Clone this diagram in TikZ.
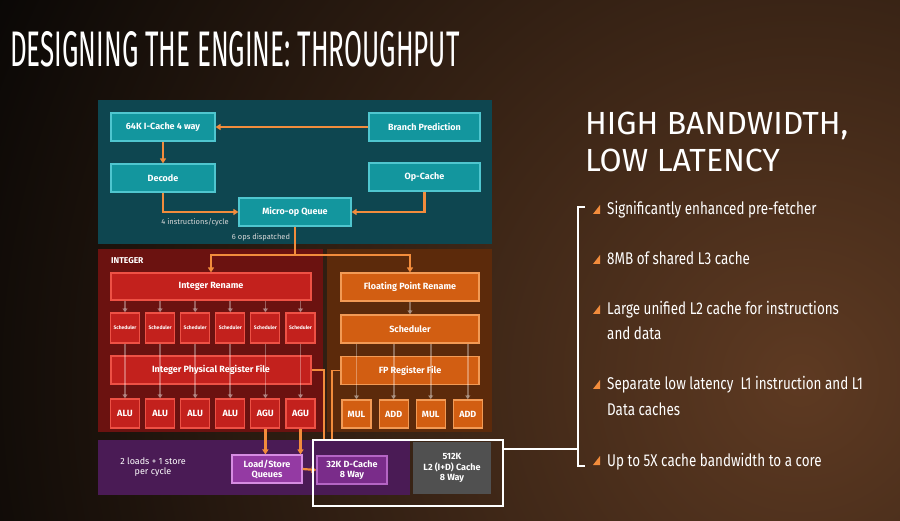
\documentclass[tikz,border=0pt]{standalone}
\usepackage{fontspec}
\setmainfont{Fira Sans}
\newfontfamily\titlefont[FakeStretch=0.52]{Fira Sans}
\newfontfamily\headfont{Fira Sans}
\newfontfamily\pointfont[FakeStretch=0.79]{Fira Sans}
\usepackage{tikz}
\usetikzlibrary{arrows.meta, positioning}
\definecolor{inkdark}{HTML}{060504}
\definecolor{emberglow}{HTML}{5E3A22}
\definecolor{fepanel}{HTML}{0E4650}
\definecolor{feteal}{HTML}{13969E}
\definecolor{feedge}{HTML}{4FC6CF}
\definecolor{intpanel}{HTML}{6B1210}
\definecolor{intred}{HTML}{C3211D}
\definecolor{intedge}{HTML}{EE5145}
\definecolor{fppanel}{HTML}{5C2A0B}
\definecolor{fporange}{HTML}{D25E12}
\definecolor{fpedge}{HTML}{F29A55}
\definecolor{lspanel}{HTML}{4A1B55}
\definecolor{lsviolet}{HTML}{943AA3}
\definecolor{lsedge}{HTML}{D68CE2}
\definecolor{dcviolet}{HTML}{7A2C8A}
\definecolor{dcedge}{HTML}{B565C5}
\definecolor{l2grey}{HTML}{505050}
\definecolor{wire}{HTML}{F28C3C}

\begin{document}
\begin{tikzpicture}[
    x=1pt, y=-1pt,
    node distance=5pt and 5pt,
    unit/.style={rectangle, line width=1.1pt, text=white, align=center, inner sep=1pt, font=\bfseries\fontsize{9}{10}\selectfont},
    febox/.style={unit, draw=feedge, fill=feteal, minimum width=104pt, minimum height=28pt},
    intwide/.style={unit, draw=intedge, fill=intred, minimum width=200pt, minimum height=27pt},
    intcell/.style={unit, draw=intedge, fill=intred, minimum width=29pt, minimum height=29pt},
    schedcell/.style={intcell, minimum height=30pt, font=\bfseries\fontsize{5}{6}\selectfont},
    fpwide/.style={unit, draw=fpedge, fill=fporange, minimum width=138pt, minimum height=28pt},
    fpcell/.style={unit, draw=fpedge, fill=fporange, minimum width=29pt, minimum height=28pt},
    lsbox/.style={unit, draw=lsedge, fill=lsviolet, minimum width=70pt, minimum height=28pt, font=\bfseries\fontsize{9}{10}\selectfont},
    note/.style={text=white!85!black, font=\fontsize{7.5}{9}\selectfont, inner sep=0pt},
    flowarrow/.style={-{Triangle[length=5pt, width=6pt]}, line width=2.2pt, color=wire},
    flowline/.style={line width=2.2pt, color=wire},
    fadearrow/.style={-{Triangle[length=4pt, width=5pt]}, line width=1.8pt, color=white, opacity=0.32},
    pointtext/.style={anchor=base west, inner sep=0pt, align=left, text=white, font=\pointfont\fontsize{17}{25}\selectfont},
    tri/.style={fill=wire},
  ]
  % background
  \useasboundingbox (0,0) rectangle (900,521);
  \fill[inkdark] (0,0) rectangle (900,521);
  \begin{scope}
    \clip (0,0) rectangle (900,521);
    \shade[inner color=emberglow, outer color=inkdark] (800,380) circle (930);
  \end{scope}

  % title
  \node[anchor=base west, inner sep=0pt, text=white, font=\titlefont\fontsize{50}{50}\selectfont] (title) at (10,67) {DESIGNING THE ENGINE: THROUGHPUT};

  % panels
  \fill[fepanel] (98,100) rectangle (492,244);
  \fill[intpanel] (98,249) rectangle (323,432);
  \fill[fppanel] (327,249) rectangle (492,432);
  \fill[lspanel] (98,440) rectangle (410,495);

  % front end
  \node[febox] (icache) at (163,127) {64K I-Cache 4 way};
  \node[febox, minimum width=111pt] (branch) at (424.5,127) {Branch Prediction};
  \node[febox] (decode) at (163,178) {Decode};
  \node[febox, minimum width=111pt] (opcache) at (424.5,177) {Op-Cache};
  \node[febox, minimum width=112pt] (uopq) at (295,212) {Micro-op Queue};
  \node[note] (ipc) at (195,222) {4 instructions/cycle};
  \node[note] (dispatch) at (261,237) {6 ops dispatched};

  \draw[flowarrow] (branch.west) -- (icache.east);
  \draw[flowarrow] (icache.south) -- (decode.north);
  \draw[flowarrow] (decode.south) |- (uopq.west);
  \draw[flowarrow] (opcache.south) |- (uopq.east);

  % integer
  \node[anchor=west, inner sep=0pt, text=white, font=\bfseries\fontsize{8.5}{10}\selectfont] (intlabel) at (111,261) {INTEGER};
  \node[intwide] (irename) at (211,286.5) {Integer Rename};
  \node[schedcell] (sch1) at (125,328) {Scheduler};
  \node[schedcell, right=of sch1] (sch2) {Scheduler};
  \node[schedcell, right=of sch2] (sch3) {Scheduler};
  \node[schedcell, right=of sch3] (sch4) {Scheduler};
  \node[schedcell, right=of sch4] (sch5) {Scheduler};
  \node[schedcell, right=of sch5] (sch6) {Scheduler};
  \node[intwide, minimum height=28pt] (iprf) at (211,370) {Integer Physical Register File};
  \node[intcell] (alu1) at (125,413.5) {ALU};
  \node[intcell, right=of alu1] (alu2) {ALU};
  \node[intcell, right=of alu2] (alu3) {ALU};
  \node[intcell, right=of alu3] (alu4) {ALU};
  \node[intcell, right=of alu4] (agu1) {AGU};
  \node[intcell, right=of agu1] (agu2) {AGU};

  \draw[fadearrow] (sch1.north |- irename.south) -- (sch1.north);
  \draw[fadearrow] (sch2.north |- irename.south) -- (sch2.north);
  \draw[fadearrow] (sch3.north |- irename.south) -- (sch3.north);
  \draw[fadearrow] (sch4.north |- irename.south) -- (sch4.north);
  \draw[fadearrow] (sch5.north |- irename.south) -- (sch5.north);
  \draw[fadearrow] (sch6.north |- irename.south) -- (sch6.north);
  \draw[fadearrow] (sch1.south) -- (alu1.north);
  \draw[fadearrow] (sch2.south) -- (alu2.north);
  \draw[fadearrow] (sch3.south) -- (alu3.north);
  \draw[fadearrow] (sch4.south) -- (alu4.north);
  \draw[fadearrow] (sch5.south) -- (agu1.north);
  \draw[fadearrow] (sch6.south) -- (agu2.north);

  % floating point
  \node[fpwide] (fprename) at (410,287) {Floating Point Rename};
  \node[fpwide] (fpsched) at (410,329) {Scheduler};
  \node[fpwide] (fprf) at (410,370.5) {FP Register File};
  \node[fpcell] (mul1) at (356.5,414) {MUL};
  \node[fpcell, right=7pt of mul1] (add1) {ADD};
  \node[fpcell, right=7pt of add1] (mul2) {MUL};
  \node[fpcell, right=7pt of mul2] (add2) {ADD};

  \draw[fadearrow] (fprename.south) -- (fpsched.north);
  \draw[fadearrow] (mul1.north |- fpsched.south) -- (mul1.north);
  \draw[fadearrow] (add1.north |- fpsched.south) -- (add1.north);
  \draw[fadearrow] (mul2.north |- fpsched.south) -- (mul2.north);
  \draw[fadearrow] (add2.north |- fpsched.south) -- (add2.north);

  % dispatch
  \coordinate (split) at (uopq.south |- 0,255);
  \draw[flowline] (uopq.south) -- (split);
  \draw[flowarrow] (split) -| (irename.north);
  \draw[flowarrow] (split) -| (fprename.north);

  % load/store
  \node[text=white, align=center, font=\fontsize{9}{10.5}\selectfont] (ldst) at (153,467) {2 loads + 1 store\\per cycle};
  \node[lsbox] (lsq) at (267,469) {Load/Store\\Queues};
  \node[lsbox, draw=dcedge, fill=dcviolet] (dcache) at (352,470) {32K D-Cache\\8 Way};
  \node[unit, fill=l2grey, minimum width=78pt, minimum height=52pt, font=\bfseries\fontsize{9}{10.5}\selectfont] (l2) at (452,468) {512K\\L2 (I+D) Cache\\8 Way};

  \draw[flowarrow] (agu1.south) -- (agu1.south |- lsq.north);
  \draw[flowarrow] (agu2.south) -- (agu2.south |- lsq.north);
  \draw[flowarrow] (lsq.east) -- (dcache.west);

  \coordinate (intdrop) at (324,440);
  \coordinate (fpdrop) at (332,440);
  \draw[flowline, line width=1.6pt] (iprf.east) -| (intdrop);
  \draw[flowline, line width=1.6pt] (fprf.west) -| (fpdrop);

  % cache highlight + bracket
  \draw[white, line width=2pt] (313,440) rectangle (503,506);
  \coordinate (tap) at (503,449);
  \coordinate (brtop) at (585,207);
  \coordinate (brbot) at (585,466);
  \draw[white, line width=1.4pt] (tap) -- (578,449);
  \draw[white, line width=1.4pt] (brtop) -- (578,207) -- (578,466) -- (brbot);

  % right column
  \node[anchor=base west, inner sep=0pt, align=left, text=white, font=\headfont\fontsize{32}{37}\selectfont] (head) at (585,172) {HIGH BANDWIDTH,\\LOW LATENCY};

  \fill[tri] (593,214) -- (600,214) -- (600,205) -- cycle;
  \fill[tri] (593,264) -- (600,264) -- (600,255) -- cycle;
  \fill[tri] (593,314) -- (600,314) -- (600,305) -- cycle;
  \fill[tri] (593,389) -- (600,389) -- (600,380) -- cycle;
  \fill[tri] (593,465) -- (600,465) -- (600,456) -- cycle;
  \node[pointtext] (pt1) at (607,215) {Significantly enhanced pre-fetcher};
  \node[pointtext] (pt2) at (607,265) {8MB of shared L3 cache};
  \node[pointtext] (pt3) at (607,340) {Large unified L2 cache for instructions\\and data};
  \node[pointtext] (pt4) at (607,415) {Separate low latency\ \ L1 instruction and L1\\Data caches};
  \node[pointtext] (pt5) at (607,466) {Up to 5X cache bandwidth to a core};
\end{tikzpicture}
\end{document}
